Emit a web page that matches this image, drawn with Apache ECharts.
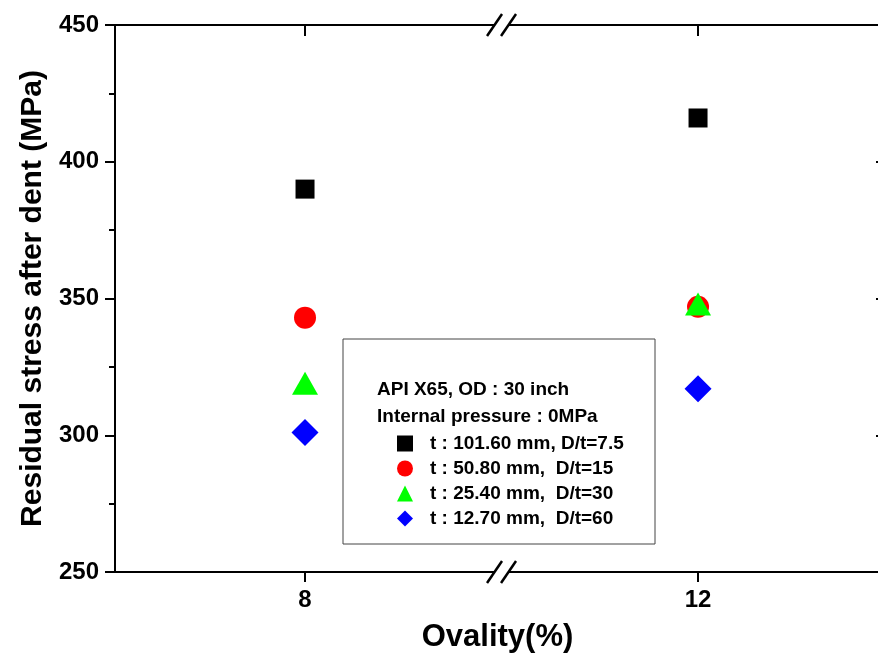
<!DOCTYPE html>
<html>
<head>
<meta charset="utf-8">
<title>Residual stress after dent</title>
<script src="https://cdn.jsdelivr.net/npm/echarts@6/dist/echarts.min.js"></script>
<style>
  html, body { margin: 0; padding: 0; background: #fff; }
  #main { width: 878px; height: 659px; }
</style>
</head>
<body>
<div id="main"></div>
<script>
// data
const ovality = [8, 12]
const yTicks = [250, 300, 350, 400, 450]
const seriesNames = [
  't : 101.60 mm, D/t=7.5',
  't : 50.80 mm,  D/t=15',
  't : 25.40 mm,  D/t=30',
  't : 12.70 mm,  D/t=60'
]
const stress101 = [390, 416]
const stress50 = [343, 347]
const stress25 = [319, 348]
const stress12 = [301, 317]
const headerLines = ['API X65, OD : 30 inch', 'Internal pressure : 0MPa']

const FONT = 'Liberation Sans, Arial, Helvetica, sans-serif'
const breakAt = 10 // axis break drawn between 8 and 12

const chart = echarts.init(document.getElementById('main'), null, { renderer: 'canvas' })

const pairs = (ys) => ovality.map((x, i) => [x, ys[i]])

// common x range (picked so 8 and 12 land where the original puts them)
const xMin = 6.066
const xMax = 13.852

const option = {
  backgroundColor: '#fff',
  animation: false,
  grid: { left: 115, top: 25, right: -2, bottom: 87, containLabel: false, outerBoundsMode: 'none' },
  xAxis: [
    {
      type: 'value',
      min: xMin,
      max: xMax,
      name: 'Ovality(%)',
      nameLocation: 'middle',
      nameGap: 50,
      nameTextStyle: { fontFamily: FONT, fontWeight: 'bold', fontSize: 31, color: '#000' },
      axisLine: { lineStyle: { color: '#000', width: 2 } },
      axisTick: { show: true, inside: false, length: 10, lineStyle: { color: '#000', width: 2 }, customValues: ovality },
      axisLabel: { fontFamily: FONT, fontWeight: 'bold', fontSize: 24, color: '#000', margin: 16, customValues: ovality },
      splitLine: { show: false }
    },
    {
      type: 'value',
      position: 'top',
      min: xMin,
      max: xMax,
      axisLine: { show: true, lineStyle: { color: '#000', width: 2 } },
      axisTick: { show: true, inside: true, length: 11, lineStyle: { color: '#000', width: 2 }, customValues: ovality },
      axisLabel: { show: false },
      splitLine: { show: false }
    }
  ],
  yAxis: [
    {
      type: 'value',
      min: 250,
      max: 450,
      interval: 50,
      name: 'Residual stress after dent (MPa)',
      nameLocation: 'middle',
      nameGap: 67,
      nameTextStyle: { fontFamily: FONT, fontWeight: 'bold', fontSize: 30, color: '#000' },
      axisLine: { show: true, lineStyle: { color: '#000', width: 2 } },
      axisTick: { show: true, inside: false, length: 10, lineStyle: { color: '#000', width: 2 } },
      minorTick: { show: true, splitNumber: 2, length: 6, lineStyle: { color: '#000', width: 2 } },
      axisLabel: {
        fontFamily: FONT, fontWeight: 'bold', fontSize: 24, color: '#000', margin: 16,
        formatter: (v) => (yTicks.includes(v) ? String(v) : '')
      },
      splitLine: { show: false }
    },
    {
      type: 'value',
      position: 'right',
      min: 250,
      max: 450,
      interval: 50,
      axisLine: { show: true, lineStyle: { color: '#000', width: 2 } },
      axisTick: { show: true, inside: true, length: 4, lineStyle: { color: '#000', width: 2 } },
      axisLabel: { show: false },
      splitLine: { show: false }
    }
  ],
  legend: {
    orient: 'vertical',
    left: 392,
    top: 429,
    itemWidth: 16,
    itemHeight: 16,
    itemGap: 6,
    textStyle: { fontFamily: FONT, fontWeight: 'bold', fontSize: 19, color: '#000', padding: [0, 0, 0, 12] },
    data: seriesNames
  },
  series: [
    {
      name: seriesNames[0],
      type: 'scatter',
      symbol: 'rect',
      symbolSize: 19,
      itemStyle: { color: '#000', opacity: 1 },
      data: pairs(stress101)
    },
    {
      name: seriesNames[1],
      type: 'scatter',
      symbol: 'circle',
      symbolSize: 22,
      itemStyle: { color: '#ff0000', opacity: 1 },
      data: pairs(stress50)
    },
    {
      name: seriesNames[2],
      type: 'scatter',
      symbol: 'triangle',
      symbolSize: [26, 23],
      itemStyle: { color: '#00ff00', opacity: 1 },
      data: pairs(stress25)
    },
    {
      name: seriesNames[3],
      type: 'scatter',
      symbol: 'diamond',
      symbolSize: [27, 27],
      itemStyle: { color: '#0000ff', opacity: 1 },
      data: pairs(stress12)
    }
  ]
}

chart.setOption(option)

// break marks "//" on top and bottom axis + legend frame and header text
function breakMark (cx, cy) {
  const line = (dx) => ({
    type: 'line',
    shape: { x1: cx + dx - 7.5, y1: cy + 11, x2: cx + dx + 7.5, y2: cy - 11 },
    style: { stroke: '#000', lineWidth: 2.5 },
    z: 101
  })
  return [
    { type: 'rect', shape: { x: cx - 7, y: cy - 3, width: 14, height: 6 }, style: { fill: '#fff' }, z: 100 },
    line(-7),
    line(7)
  ]
}

const bx = chart.convertToPixel({ xAxisIndex: 0 }, breakAt)
const yTop = chart.convertToPixel({ yAxisIndex: 0 }, 450)
const yBottom = chart.convertToPixel({ yAxisIndex: 0 }, 250)

chart.setOption({
  graphic: [
    ...breakMark(bx, yTop),
    ...breakMark(bx, yBottom),
    {
      type: 'rect',
      shape: { x: 343, y: 339, width: 312, height: 205 },
      style: { fill: '#fff', stroke: '#444', lineWidth: 1 },
      z: 1
    },
    {
      type: 'text',
      left: 377,
      top: 376,
      style: {
        text: headerLines.join('\n'),
        font: 'bold 19px ' + FONT,
        lineHeight: 27,
        fill: '#000'
      },
      z: 2
    }
  ]
})
</script>
</body>
</html>
